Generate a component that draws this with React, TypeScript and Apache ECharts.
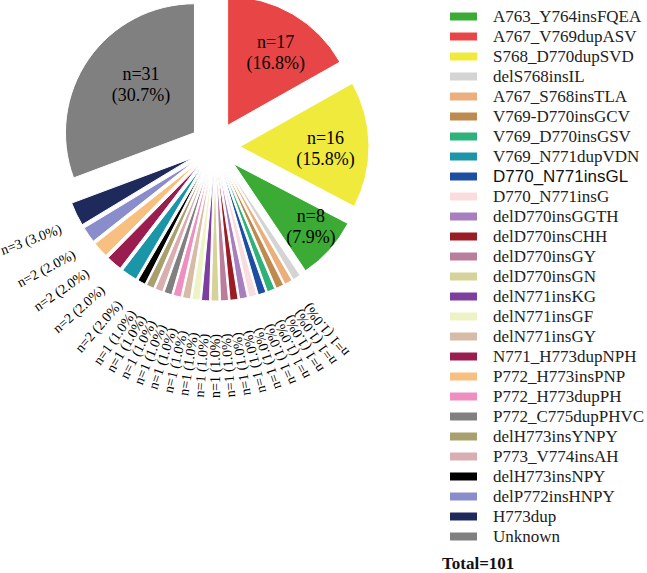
import React, { useEffect, useRef } from "react";
import * as echarts from "echarts";

// Legend order
const categories = [
  "A763_Y764insFQEA", "A767_V769dupASV", "S768_D770dupSVD", "delS768insIL",
  "A767_S768insTLA", "V769-D770insGCV", "V769_D770insGSV", "V769_N771dupVDN",
  "D770_N771insGL", "D770_N771insG", "delD770insGGTH", "delD770insCHH",
  "delD770insGY", "delD770insGN", "delN771insKG", "delN771insGF",
  "delN771insGY", "N771_H773dupNPH", "P772_H773insPNP", "P772_H773dupPH",
  "P772_C775dupPHVC", "delH773insYNPY", "P773_V774insAH", "delH773insNPY",
  "delP772insHNPY", "H773dup", "Unknown",
];
const counts = [
  8, 17, 16, 1,
  1, 1, 1, 2,
  1, 1, 1, 1,
  1, 1, 1, 1,
  1, 2, 2, 1,
  1, 1, 1, 1,
  2, 3, 31,
];
const colors = [
  "#3BAB36", "#E84646", "#EFEA3B", "#D4D4D4",
  "#EBAF7D", "#BF8A4D", "#2FB27A", "#1B95A8",
  "#1E4EA2", "#FADCDF", "#A77FBF", "#9A1C25",
  "#BA7D9B", "#D6D39A", "#7C3F9F", "#EEF3C6",
  "#D8BBA7", "#9B1C4F", "#F7BF80", "#EE8FC0",
  "#808080", "#A9A06F", "#D9AEB1", "#000000",
  "#8A8DCB", "#1E2A5C", "#808080",
];
// Clockwise order of slices from 12 o'clock
const pieOrder = [
  "A767_V769dupASV", "S768_D770dupSVD", "A763_Y764insFQEA", "delS768insIL",
  "A767_S768insTLA", "V769-D770insGCV", "V769_D770insGSV", "D770_N771insGL",
  "D770_N771insG", "delD770insGGTH", "delD770insCHH", "delD770insGY",
  "delD770insGN", "delN771insKG", "delN771insGF", "delN771insGY",
  "P772_H773dupPH", "P772_C775dupPHVC", "P773_V774insAH", "delH773insYNPY",
  "delH773insNPY", "V769_N771dupVDN", "N771_H773dupNPH", "P772_H773insPNP",
  "delP772insHNPY", "H773dup", "Unknown",
];
const sansNames = ["D770_N771insGL"];
const insideThreshold = 8;

// layout / style constants
const CX = 215;
const CY = 147;
const RADIUS = 129;
const OFFSET = 25;
const LABEL_RX = 171;
const LABEL_RY = 187;
const ROT_STRETCH = 1.3;
const SMALL_FONT = 14;
const insideNudge: Record<string, number[]> = {
  A767_V769dupASV: [14, -15],
  S768_D770dupSVD: [18, 3],
  A763_Y764insFQEA: [27, 18],
  Unknown: [2, -10],
};

export default function App() {
  const ref = useRef<HTMLDivElement>(null);
  useEffect(() => {
    document.body.style.margin = "0";
    const chart = echarts.init(ref.current!, null, { renderer: "svg" });
    const total = counts.reduce((a, b) => a + b, 0);
    const pct = (v: number) => ((v / total) * 100).toFixed(1);
    const serif = "'Liberation Serif', 'Times New Roman', serif";
    const rows = pieOrder.map((name) => {
      const i = categories.indexOf(name);
      return { name, value: counts[i], color: colors[i] };
    });
    const mids: number[] = [];
    let cum = 0;
    rows.forEach((d) => {
      mids.push(((cum + d.value / 2) / total) * 360);
      cum += d.value;
    });
    // visible, exploded slices with labels for the big ones
    const sliceData = rows.map((r) => {
      const big = r.value >= insideThreshold;
      return {
        name: r.name,
        value: r.value,
        selected: true,
        itemStyle: { color: r.color },
        label: big
          ? { show: true, formatter: `n=${r.value}\n(${pct(r.value)}%)` }
          : { show: false },
      };
    });
    // invisible twin carrying the small-slice outside labels
    const labelData = rows.map((r) => {
      const big = r.value >= insideThreshold;
      return {
        name: r.name,
        value: r.value,
        label: big ? { show: false } : { show: true, formatter: `n=${r.value} (${pct(r.value)}%)` },
      };
    });
    chart.setOption({
      animation: false,
      title: {
        text: `Total=${total}`,
        left: 442,
        top: 555,
        padding: 0,
        textStyle: { fontFamily: serif, fontSize: 17, fontWeight: "bold", color: "#111" },
      },
      legend: {
        orient: "vertical",
        left: 448,
        top: 8,
        padding: 0,
        itemWidth: 29,
        itemHeight: 10,
        itemGap: 3,
        icon: "rect",
        selectedMode: false,
        data: categories,
        formatter: (name: string) => (sansNames.includes(name) ? `{s|${name}}` : name),
        textStyle: {
          fontFamily: serif,
          fontSize: 17,
          color: "#222",
          padding: [0, 0, 0, 10],
          rich: { s: { fontFamily: "'Liberation Sans', Arial, sans-serif", fontSize: 17, color: "#111" } },
        },
      },
      series: [
        {
          type: "pie",
          center: [CX, CY],
          radius: RADIUS,
          startAngle: 90,
          clockwise: true,
          selectedMode: "multiple",
          selectedOffset: OFFSET,
          avoidLabelOverlap: false,
          itemStyle: { borderColor: "#fff", borderWidth: 1 },
          label: {
            position: "inside",
            fontFamily: serif,
            fontSize: 18,
            lineHeight: 21,
            color: "#000",
          },
          labelLine: { show: false },
          emphasis: { disabled: true },
          labelLayout: (p: any) => {
            const n = insideNudge[rows[p.dataIndex].name] || [0, 0];
            return { dx: n[0], dy: n[1] };
          },
          data: sliceData,
        },
        {
          type: "pie",
          center: [CX, CY],
          radius: RADIUS,
          startAngle: 90,
          clockwise: true,
          silent: true,
          selectedMode: false,
          avoidLabelOverlap: false,
          itemStyle: { color: "rgba(0,0,0,0)", borderWidth: 0 },
          label: { position: "outside", fontFamily: serif, fontSize: SMALL_FONT, color: "#000" },
          labelLine: { show: false, length: 10, length2: 0 },
          emphasis: { disabled: true },
          labelLayout: (p: any) => {
            const t = (mids[p.dataIndex] * Math.PI) / 180;
            const s = Math.sin(t);
            const c = Math.cos(t);
            const rot = (Math.atan2(-c, -ROT_STRETCH * s) * 180) / Math.PI;
            return {
              x: CX + LABEL_RX * s,
              y: CY - LABEL_RY * c,
              rotate: rot,
              align: "right",
              verticalAlign: "middle",
              fontSize: SMALL_FONT,
            };
          },
          data: labelData,
        },
      ],
    });
    return () => chart.dispose();
  }, []);
  return <div ref={ref} style={{ width: 647, height: 573 }} />;
}
